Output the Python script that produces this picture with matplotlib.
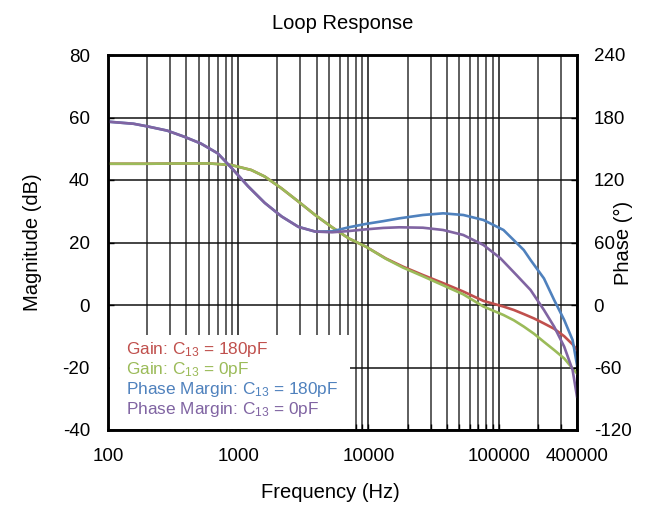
import numpy as np
import matplotlib
matplotlib.use("Agg")
import matplotlib.pyplot as plt
from matplotlib.ticker import FixedLocator, FixedFormatter, NullFormatter
from matplotlib.patches import Rectangle

plt.rcParams['font.family'] = ['Liberation Sans', 'DejaVu Sans']
plt.rcParams['mathtext.fontset'] = 'custom'
plt.rcParams['mathtext.rm'] = 'Liberation Sans'
plt.rcParams['mathtext.it'] = 'Liberation Sans'
plt.rcParams['axes.unicode_minus'] = False

# Gain curves (dB)
gain_freq = [100, 200, 400, 600, 883, 1260, 1600, 2155, 2900, 3900, 5250, 7070, 9530,
             13600, 18360, 26200, 37500, 53600, 76500, 109000, 131000, 156000, 187000,
             223000, 267000, 319000, 370000, 400000]
gain_180 = [45.2, 45.2, 45.3, 45.3, 44.8, 43.2, 41.1, 37.3, 33.1, 28.8, 24.9, 21.3, 18.7,
            14.9, 12.3, 9.6, 7.0, 4.3, 1.3, -0.5, -1.6, -2.9, -4.3,
            -5.9, -7.6, -10.0, -12.6, -14.4]
gain_0 = [45.2, 45.2, 45.3, 45.3, 44.8, 43.2, 41.1, 37.3, 33.1, 28.8, 24.9, 21.3, 18.7,
          14.8, 12.0, 9.2, 6.3, 3.4, -0.5, -3.2, -4.9, -6.9, -9.2,
          -11.8, -14.4, -17.1, -20.3, -21.9]

# Phase margin curves (degrees)
pm_freq_low = [100, 157, 200, 285, 384, 517, 696, 883, 1190, 1600, 2155, 2900, 3900]
pm_low = [176, 174, 171.5, 167.4, 161.6, 155, 145.6, 132, 114, 98, 85, 75, 70.5]

pm180_freq = [5250, 7070, 9530, 13000, 17300, 26200, 37500, 53600, 76500, 109000,
              156000, 176000, 223000, 267000, 319000, 370000, 400000]
pm_180 = [70.7, 74.6, 77.8, 80.5, 83.2, 86.4, 88, 86.4, 81.6, 72,
          52.8, 43.2, 25.5, 4.8, -14.4, -33.6, -57.6]

pm0_freq = [5250, 7070, 9530, 13000, 17300, 26200, 37500, 53600, 76500, 103000,
            139000, 176000, 223000, 267000, 319000, 370000, 400000]
pm_0 = [69.8, 71, 72.6, 74, 74.6, 74.2, 72, 67.2, 57.6, 45,
        28, 14.4, -4.8, -20.8, -40, -62.4, -88]

x_ticks = [100, 1000, 10000, 100000, 400000]
x_labels = ['100', '1000', '10000', '100000', '400000']

red = '#C0504D'
green = '#9BBB59'
blue = '#4F81BD'
purple = '#8064A2'

fig = plt.figure(figsize=(6.56, 5.05), dpi=100)
ax = fig.add_axes([108/656, 1-430/505, (577-108)/656, (430-55)/505])
ax2 = ax.twinx()

lw = 1.9
l1, = ax.plot(gain_freq, gain_180, color=red, lw=lw, label='Gain: C$_{13}$ = 180pF', zorder=3)
l2, = ax.plot(gain_freq, gain_0, color=green, lw=lw, label='Gain: C$_{13}$ = 0pF', zorder=3)
l3, = ax2.plot(pm_freq_low + pm180_freq, pm_low + pm_180, color=blue, lw=lw,
               label='Phase Margin: C$_{13}$ = 180pF')
l4, = ax2.plot(pm_freq_low + pm0_freq, pm_low + pm_0, color=purple, lw=lw,
               label='Phase Margin: C$_{13}$ = 0pF')

ax.set_xscale('log')
ax.set_xlim(100, 400000)
ax.set_ylim(-40, 80)
ax2.set_ylim(-120, 240)
ax.set_yticks(np.arange(-40, 81, 20))
ax2.set_yticks(np.arange(-120, 241, 60))

ax.xaxis.set_major_locator(FixedLocator(x_ticks))
ax.xaxis.set_major_formatter(FixedFormatter(x_labels))
minor = []
for d in [100, 1000, 10000, 100000]:
    for m in range(2, 10):
        v = d * m
        if v < 400000:
            minor.append(v)
ax.xaxis.set_minor_locator(FixedLocator(minor))
ax.xaxis.set_minor_formatter(NullFormatter())

ax.grid(True, which='major', axis='both', color='#111111', lw=1.1)
ax.grid(True, which='minor', axis='x', color='#333333', lw=1.1)
ax.set_axisbelow(True)

for a in (ax, ax2):
    for s in a.spines.values():
        s.set_linewidth(1.8)
        s.set_color('black')
ax.tick_params(axis='x', which='both', labelsize=13.5, direction='in', length=4, width=1, pad=13)
ax.tick_params(axis='y', labelsize=13.5, direction='in', length=4, width=1, pad=13)
ax2.tick_params(axis='y', labelsize=13.5, direction='in', length=4, width=1, pad=12)

ax.set_xlabel('Frequency (Hz)', fontsize=14.5)
ax.set_ylabel('Magnitude (dB)', fontsize=14.5)
ax2.set_ylabel('Phase (°)', fontsize=14.5)
ax.xaxis.set_label_coords(0.475, -0.142)
ax.yaxis.set_label_coords(-0.141, 0.5)
ax2.yaxis.set_label_coords(1.078, 0.5)
ax.set_title('Loop Response', fontsize=14.5, pad=19)

# white legend box
ax2.add_patch(Rectangle((0.004, 0.004), 0.512, 0.249, transform=ax2.transAxes,
                        facecolor='white', edgecolor='none', zorder=4))
leg = ax2.legend(handles=[l1, l2, l3, l4], loc='upper left', bbox_to_anchor=(0.038, 0.24),
                 handlelength=0, handletextpad=0, labelcolor='linecolor', fontsize=12.4,
                 frameon=False, borderpad=0, labelspacing=0.06, borderaxespad=0)
leg.set_zorder(5)
for h in leg.legend_handles:
    h.set_visible(False)

fig.savefig('out.png', dpi=100)
